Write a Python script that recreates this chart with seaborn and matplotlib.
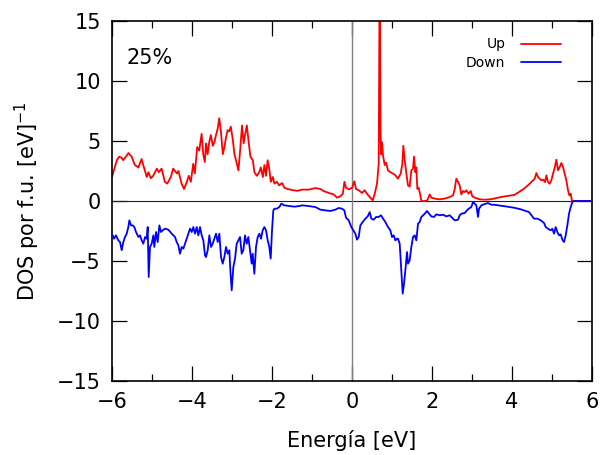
import matplotlib
matplotlib.use("Agg")
import matplotlib.pyplot as plt
import seaborn as sns
import pandas as pd

# Spin-up density of states (energy in eV, states per f.u. per eV)
energy_up = [
    -6.00, -5.88, -5.82, -5.76, -5.72, -5.63, -5.59, -5.51, -5.43, -5.34,
    -5.26, -5.22, -5.13, -5.09, -5.03, -4.97, -4.88, -4.83, -4.76, -4.68,
    -4.62, -4.53, -4.47, -4.38, -4.34, -4.26, -4.20, -4.13, -4.08, -4.03,
    -3.97, -3.93, -3.87, -3.82, -3.76, -3.72, -3.68, -3.65, -3.61, -3.57,
    -3.53, -3.48, -3.44, -3.40, -3.36, -3.32, -3.28, -3.23, -3.19, -3.15,
    -3.11, -3.07, -3.03, -2.98, -2.94, -2.90, -2.84, -2.79, -2.75, -2.71,
    -2.67, -2.63, -2.58, -2.54, -2.48, -2.44, -2.38, -2.32, -2.28, -2.23,
    -2.19, -2.15, -2.11, -2.07, -2.03, -1.98, -1.94, -1.88, -1.82, -1.75,
    -1.69, -1.61, -1.48, -1.36, -1.25, -1.08, -0.92, -0.79, -0.71, -0.58,
    -0.46, -0.375, -0.29, -0.23, -0.19, -0.15, -0.08, 0.00, 0.058, 0.10,
    0.167, 0.25, 0.317, 0.375, 0.458, 0.517, 0.567, 0.625, 0.667, 0.692,
    0.712, 0.725, 0.75, 0.775, 0.817, 0.85, 0.90, 0.958, 1.017, 1.083,
    1.15, 1.217, 1.258, 1.283, 1.317, 1.358, 1.40, 1.442, 1.483, 1.525,
    1.55, 1.583, 1.608, 1.633, 1.667, 1.708, 1.733, 1.817, 1.883, 1.942,
    1.983, 2.067, 2.192, 2.317, 2.442, 2.525, 2.567, 2.608, 2.65, 2.692,
    2.733, 2.775, 2.817, 2.858, 2.917, 2.967, 3.008, 3.067, 3.192, 3.317,
    3.442, 3.55, 3.717, 3.883, 4.05, 4.175, 4.30, 4.425, 4.508, 4.567,
    4.608, 4.65, 4.692, 4.733, 4.783, 4.825, 4.858, 4.90, 4.942, 4.983,
    5.025, 5.067, 5.108, 5.15, 5.192, 5.233, 5.275, 5.317, 5.358, 5.40,
    5.433, 5.467, 5.50, 6.00,
]
dos_up = [
    2.0, 3.4, 3.7, 3.6, 3.4, 3.8, 4.0, 3.7, 3.0, 2.8,
    3.5, 3.0, 2.0, 2.4, 1.9, 2.1, 2.7, 2.4, 2.7, 1.6,
    1.45, 2.0, 2.7, 2.3, 2.5, 1.45, 1.0, 1.6, 2.1, 1.6,
    3.1, 2.3, 4.5, 4.2, 5.6, 3.9, 3.25, 4.8, 3.9, 4.9,
    5.5, 4.6, 4.9, 5.5, 6.0, 6.9, 5.9, 3.9, 4.5, 5.3,
    5.9, 5.8, 6.2, 5.1, 3.9, 3.4, 2.55, 4.5, 6.3, 4.8,
    5.6, 6.3, 4.8, 3.7, 3.4, 2.4, 2.1, 2.4, 2.8, 2.0,
    3.0, 2.1, 3.4, 2.7, 1.6, 2.0, 1.45, 1.6, 1.3, 1.5,
    1.1, 1.0, 0.9, 0.85, 0.95, 0.95, 1.08, 1.0, 0.83, 0.67,
    0.55, 0.28, 0.4, 0.6, 1.6, 1.1, 0.97, 1.1, 1.64, 1.0,
    0.9, 0.67, 0.9, 0.6, 0.28, 0.05, 0.6, 1.45, 3.1, 20.0,
    6.0, 3.9, 4.9, 3.8, 3.0, 3.2, 2.55, 2.4, 2.3, 2.15,
    1.86, 2.3, 3.1, 4.6, 3.4, 2.3, 1.3, 1.2, 2.55, 2.7,
    3.7, 2.4, 2.8, 1.0, 1.1, 0.47, 0.0, 0.0, 0.05, 0.55,
    0.28, 0.2, 0.14, 0.2, 0.33, 0.47, 1.0, 1.86, 1.6, 1.3,
    0.55, 0.83, 0.75, 0.89, 0.61, 0.83, 0.39, 0.28, 0.14, 0.11,
    0.14, 0.2, 0.33, 0.42, 0.5, 0.75, 1.03, 1.39, 1.67, 1.86,
    2.33, 2.0, 1.86, 1.72, 1.78, 1.58, 2.14, 1.58, 1.44, 1.72,
    2.28, 2.78, 3.44, 2.56, 2.83, 3.17, 2.83, 2.28, 1.72, 0.89,
    0.47, 0.61, 0.0, 0.0,
]

# Spin-down density of states (plotted as negative values)
energy_down = [
    -5.983, -5.95, -5.90, -5.842, -5.80, -5.758, -5.717, -5.675, -5.633, -5.592,
    -5.567, -5.525, -5.483, -5.442, -5.40, -5.342, -5.30, -5.258, -5.217, -5.175,
    -5.133, -5.108, -5.083, -5.05, -5.008, -4.967, -4.942, -4.90, -4.858, -4.817,
    -4.775, -4.733, -4.675, -4.592, -4.508, -4.425, -4.383, -4.342, -4.30, -4.258,
    -4.217, -4.175, -4.133, -4.092, -4.05, -4.008, -3.967, -3.925, -3.883, -3.842,
    -3.80, -3.758, -3.717, -3.675, -3.65, -3.608, -3.567, -3.525, -3.483, -3.442,
    -3.40, -3.358, -3.317, -3.275, -3.233, -3.192, -3.15, -3.108, -3.067, -3.042,
    -3.008, -2.967, -2.925, -2.883, -2.842, -2.80, -2.758, -2.717, -2.675, -2.633,
    -2.592, -2.55, -2.508, -2.483, -2.442, -2.40, -2.358, -2.317, -2.275, -2.233,
    -2.192, -2.15, -2.108, -2.067, -2.033, -2.00, -1.967, -1.942, -1.883, -1.817,
    -1.767, -1.692, -1.567, -1.442, -1.317, -1.25, -1.083, -0.917, -0.792, -0.667,
    -0.542, -0.417, -0.333, -0.25, -0.192, -0.15, -0.083, -0.017, 0.042, 0.083,
    0.125, 0.167, 0.208, 0.267, 0.333, 0.392, 0.442, 0.483, 0.542, 0.60,
    0.667, 0.725, 0.775, 0.833, 0.90, 0.958, 1.00, 1.042, 1.083, 1.125,
    1.15, 1.192, 1.233, 1.267, 1.30, 1.333, 1.375, 1.40, 1.442, 1.483,
    1.525, 1.567, 1.608, 1.65, 1.692, 1.733, 1.775, 1.817, 1.875, 1.925,
    1.983, 2.05, 2.108, 2.192, 2.275, 2.358, 2.442, 2.50, 2.567, 2.65,
    2.692, 2.733, 2.817, 2.875, 2.917, 2.983, 3.025, 3.067, 3.108, 3.15,
    3.175, 3.233, 3.317, 3.40, 3.483, 3.55, 3.717, 3.883, 4.05, 4.217,
    4.342, 4.425, 4.508, 4.55, 4.633, 4.717, 4.80, 4.842, 4.90, 4.967,
    5.008, 5.05, 5.092, 5.133, 5.175, 5.217, 5.258, 5.30, 5.342, 5.383,
    5.425, 5.467, 5.508, 5.55, 6.00,
]
dos_down = [
    -2.86, -3.14, -2.86, -3.28, -3.42, -4.1, -3.42, -3.0, -2.72, -2.17,
    -1.61, -2.03, -2.03, -2.17, -2.58, -3.0, -2.86, -3.28, -3.56, -3.0,
    -3.14, -2.17, -6.33, -3.83, -3.56, -2.86, -3.83, -2.58, -3.42, -2.03,
    -2.58, -2.44, -2.3, -2.39, -2.72, -3.0, -3.42, -3.69, -4.39, -3.83,
    -3.97, -3.56, -3.14, -2.72, -2.3, -2.58, -2.17, -2.72, -2.17, -2.86,
    -2.17, -2.86, -3.28, -4.53, -4.67, -4.1, -2.86, -3.83, -3.56, -3.14,
    -2.72, -3.42, -2.72, -4.67, -5.22, -4.67, -3.83, -4.39, -4.1, -5.78,
    -7.44, -5.5, -4.8, -3.56, -3.28, -3.0, -4.39, -4.1, -2.86, -3.56,
    -3.0, -4.1, -5.22, -4.39, -6.06, -3.83, -3.0, -2.72, -3.14, -2.44,
    -2.17, -2.44, -3.28, -3.83, -4.8, -2.44, -0.78, -0.64, -0.64, -0.5,
    -0.22, -0.36, -0.42, -0.47, -0.42, -0.36, -0.42, -0.5, -0.72, -0.78,
    -0.83, -0.72, -0.58, -0.64, -0.78, -1.39, -1.61, -2.17, -2.5, -2.72,
    -3.22, -3.0, -2.03, -1.75, -1.47, -1.28, -0.92, -1.47, -1.56, -1.33,
    -1.33, -1.19, -1.47, -1.75, -2.17, -2.44, -3.0, -2.86, -3.28, -3.14,
    -3.14, -3.56, -5.78, -7.72, -6.89, -5.78, -4.25, -5.22, -4.94, -3.83,
    -3.0, -2.86, -3.28, -1.89, -1.75, -1.33, -1.19, -1.06, -0.83, -1.06,
    -1.28, -1.33, -1.11, -1.19, -1.14, -1.28, -1.19, -1.39, -1.61, -1.56,
    -1.19, -1.06, -1.0, -0.78, -0.64, -0.5, -0.08, -0.22, -0.36, -1.33,
    -0.64, -0.36, -0.25, -0.17, -0.31, -0.31, -0.39, -0.47, -0.56, -0.69,
    -0.83, -0.92, -1.28, -1.47, -1.47, -1.61, -1.83, -2.17, -2.31, -2.44,
    -2.31, -2.72, -2.17, -2.58, -2.86, -2.78, -3.22, -3.42, -2.86, -2.03,
    -1.06, -0.5, -0.08, 0.0, 0.0,
]

x_ticks = [-6, -4, -2, 0, 2, 4, 6]
y_ticks = [-15, -10, -5, 0, 5, 10, 15]

up_df = pd.DataFrame({"energy": energy_up, "dos": dos_up})
down_df = pd.DataFrame({"energy": energy_down, "dos": dos_down})

sns.set_theme(style="ticks")
plt.rcParams["font.family"] = ["DejaVu Sans"]
plt.rcParams["mathtext.fontset"] = "dejavusans"
plt.rcParams["text.color"] = "black"
plt.rcParams["axes.labelcolor"] = "black"

fig = plt.figure(figsize=(6.0, 4.55), dpi=100)
ax = fig.add_axes([0.1867, 0.1626, 0.80, 0.7912])

# Reference lines at the Fermi level and zero DOS
ax.axhline(0, color="#222222", lw=0.8, zorder=1)
ax.axvline(0, color="#808080", lw=1.0, zorder=1)

sns.lineplot(data=up_df, x="energy", y="dos", color="#ff0000", lw=1.3,
             estimator=None, sort=False, label="Up", ax=ax, zorder=2)
sns.lineplot(data=down_df, x="energy", y="dos", color="#0000ff", lw=1.3,
             estimator=None, sort=False, label="Down", ax=ax, zorder=3)

ax.set_xlim(-6, 6)
ax.set_ylim(-15, 15)
ax.set_xticks(x_ticks)
ax.set_yticks(y_ticks)
ax.set_xticks([-5, -3, -1, 1, 3, 5], minor=True)

ax.tick_params(axis="both", which="major", direction="in", length=10.5,
               width=0.9, top=True, right=True, labelsize=15, pad=8,
               color="black", labelcolor="black")
ax.tick_params(axis="x", which="minor", direction="in", length=5.2,
               width=0.9, top=True, bottom=True, color="black")
for side in ax.spines.values():
    side.set_linewidth(1.2)
    side.set_color("black")

ax.set_xlabel("Energía [eV]", fontsize=15, labelpad=13, color="black")
ax.set_ylabel("DOS por f.u. [eV]$^{-1}$", fontsize=15, labelpad=11,
              color="black")

ax.text(0.03, 0.897, "25%", transform=ax.transAxes, fontsize=15,
        ha="left", va="center", color="black")

leg = ax.legend(loc="upper right", bbox_to_anchor=(0.947, 0.97),
                frameon=False, markerfirst=False, fontsize=10,
                handlelength=2.9, labelspacing=0.35, borderaxespad=0.0,
                handletextpad=1.1)
for txt in leg.get_texts():
    txt.set_color("black")

fig.savefig("out.png", dpi=100)
